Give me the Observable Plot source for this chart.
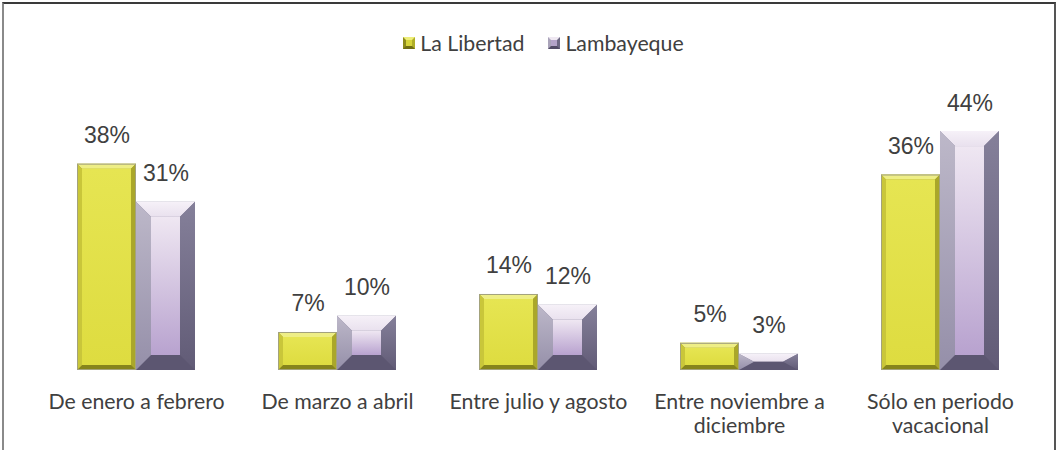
<!DOCTYPE html>
<html>
<head>
<meta charset="utf-8">
<script src="https://cdn.jsdelivr.net/npm/d3@7"></script>
<script src="https://cdn.jsdelivr.net/npm/@observablehq/plot@0.6"></script>
<style>
  html, body { margin: 0; padding: 0; background: #fff; width: 1061px; height: 450px; overflow: hidden; }
  #border { position: absolute; left: 2px; top: 2px; width: 1054px; height: 470px; border-top: 2px solid #3a3a3a; border-left: 2px solid #8a8a8a; border-right: 2px solid #555; box-sizing: border-box; }
  #legend { position: absolute; top: 31px; left: 0; width: 1061px; padding-left: 26px; box-sizing: border-box; height: 24px; display: flex; justify-content: center; align-items: center; font-family: Lato, sans-serif; font-size: 21.3px; color: #404040; }
  .item { display: flex; align-items: center; margin: 0 12px; }
  .sw { width: 12px; height: 12px; box-sizing: border-box; border-style: solid; border-width: 3px; margin-right: 5px; }
  .sw1 { background: #d6d43a; border-color: #eeee7a #b0ae28 #6f6d14 #8d8b1c; }
  .sw2 { background: #b3a3c8; border-color: #efe8f2 #6d6883 #524c66 #aaa4ba; }
  #chart { position: absolute; top: 70px; left: 0; }
</style>
</head>
<body>
<div id="border"></div>
<div id="legend"></div>
<div id="chart"></div>
<script>
const categories = ["De enero a febrero", "De marzo a abril", "Entre julio y agosto", "Entre noviembre a diciembre", "Sólo en periodo vacacional"];
const categoryLabels = ["De enero a febrero", "De marzo a abril", "Entre julio y agosto", "Entre noviembre a\ndiciembre", "Sólo en periodo\nvacacional"];
const series = ["La Libertad", "Lambayeque"];
const laLibertad = [38, 7, 14, 5, 36];
const lambayeque = [31, 10, 12, 3, 44];

const data = categories.flatMap((c, i) => [
  {cat: c, series: series[0], value: laLibertad[i]},
  {cat: c, series: series[1], value: lambayeque[i]}
]);

// legend
const legend = document.getElementById("legend");
series.forEach((s, i) => {
  const it = document.createElement("div");
  it.className = "item";
  it.innerHTML = `<span class="sw sw${i + 1}"></span><span>${s}</span>`;
  legend.appendChild(it);
});

const NS = "http://www.w3.org/2000/svg";
function bevelRender(bh, bv, colors) {
  return (index, scales, values, dimensions, context, next) => {
    const g = next(index, scales, values, dimensions, context);
    const rects = Array.from(g.querySelectorAll("rect"));
    for (const r of rects) {
      const x = +r.getAttribute("x"), y = +r.getAttribute("y");
      const w = +r.getAttribute("width"), h = +r.getAttribute("height");
      const b = Math.min(bh, w / 2), v = Math.min(bv, h / 2);
      const grp = document.createElementNS(NS, "g");
      const poly = (pts, fill) => {
        const p = document.createElementNS(NS, "polygon");
        p.setAttribute("points", pts.map(q => q.join(",")).join(" "));
        p.setAttribute("fill", fill);
        grp.appendChild(p);
      };
      poly([[x, y], [x + w, y], [x + w, y + h], [x, y + h]], colors.right);
      poly([[x, y], [x + w, y], [x + w - b, y + v], [x + b, y + v]], colors.top);
      poly([[x + w, y], [x + w, y + h], [x + w - b, y + h - v], [x + w - b, y + v]], colors.right);
      poly([[x, y + h], [x + w, y + h], [x + w - b, y + h - v], [x + b, y + h - v]], colors.bottom);
      poly([[x, y], [x + b, y + v], [x + b, y + h - v], [x, y + h]], colors.left);
      const f = document.createElementNS(NS, "rect");
      f.setAttribute("x", x + b); f.setAttribute("y", y + v);
      f.setAttribute("width", Math.max(0, w - 2 * b)); f.setAttribute("height", Math.max(0, h - 2 * v));
      f.setAttribute("fill", colors.face);
      grp.appendChild(f);
      if (colors.stroke) {
        const o = document.createElementNS(NS, "rect");
        o.setAttribute("x", x + 0.5); o.setAttribute("y", y + 0.5);
        o.setAttribute("width", w - 1); o.setAttribute("height", h - 1);
        o.setAttribute("fill", "none"); o.setAttribute("stroke", colors.stroke);
        grp.appendChild(o);
      }
      r.parentNode.insertBefore(grp, r);
      r.remove();
    }
    return g;
  };
}

const yellow = {top: "#eeee86", left: "#c9c63a", right: "#aaa72a", bottom: "#86841c", face: "url(#gYellow)", stroke: "#a3a27c"};
const purple = {top: "url(#gPTop)", left: "url(#gPLeft)", right: "url(#gPRight)", bottom: "#5c5671", face: "url(#gPFace)"};

const chart = Plot.plot({
  width: 1061,
  height: 380,
  marginLeft: 35.5,
  marginRight: 20.5,
  marginTop: 28.5,
  marginBottom: 80,
  fx: {domain: categories, paddingInner: 0.413, paddingOuter: 0.2065, axis: null, round: false},
  x: {domain: series, padding: 0, axis: null, round: false},
  y: {domain: [0, 50], axis: null},
  marks: [
    Plot.barY(data.filter(d => d.series === series[0]), {fx: "cat", x: "series", y: "value", fill: "#e2e04a", render: bevelRender(5, 5, yellow)}),
    Plot.barY(data.filter(d => d.series === series[1]), {fx: "cat", x: "series", y: "value", fill: "#b9a3d0", render: bevelRender(15, 15, purple)}),
    Plot.text(data, {fx: "cat", x: "series", y: "value", text: d => d.value + "%", lineAnchor: "bottom", dy: -21, fontSize: 23, fontFamily: "'Liberation Sans', Arial, sans-serif", fill: "#404040"}),
    Plot.text(categories, {fx: d => d, text: (d, i) => categoryLabels[i], frameAnchor: "bottom", lineAnchor: "top", dy: 21, lineHeight: 1.15, fontSize: 21.3, fontFamily: "Lato, sans-serif", fill: "#404040"})
  ]
});

const defs = d3.select(chart).insert("defs", ":first-child");
function vgrad(id, stops) {
  const lg = defs.append("linearGradient").attr("id", id).attr("x1", 0).attr("y1", 0).attr("x2", 0).attr("y2", 1);
  stops.forEach(([o, c]) => lg.append("stop").attr("offset", o).attr("stop-color", c));
}
vgrad("gYellow", [[0, "#e6e552"], [1, "#dedc40"]]);
vgrad("gPFace", [[0, "#efe7f2"], [1, "#b8a2cf"]]);
vgrad("gPTop", [[0, "#f6f1f8"], [1, "#e9e1ee"]]);
vgrad("gPLeft", [[0, "#bdb8c9"], [1, "#958fa9"]]);
vgrad("gPRight", [[0, "#85809a"], [1, "#615b76"]]);

document.getElementById("chart").appendChild(chart);
</script>
</body>
</html>
